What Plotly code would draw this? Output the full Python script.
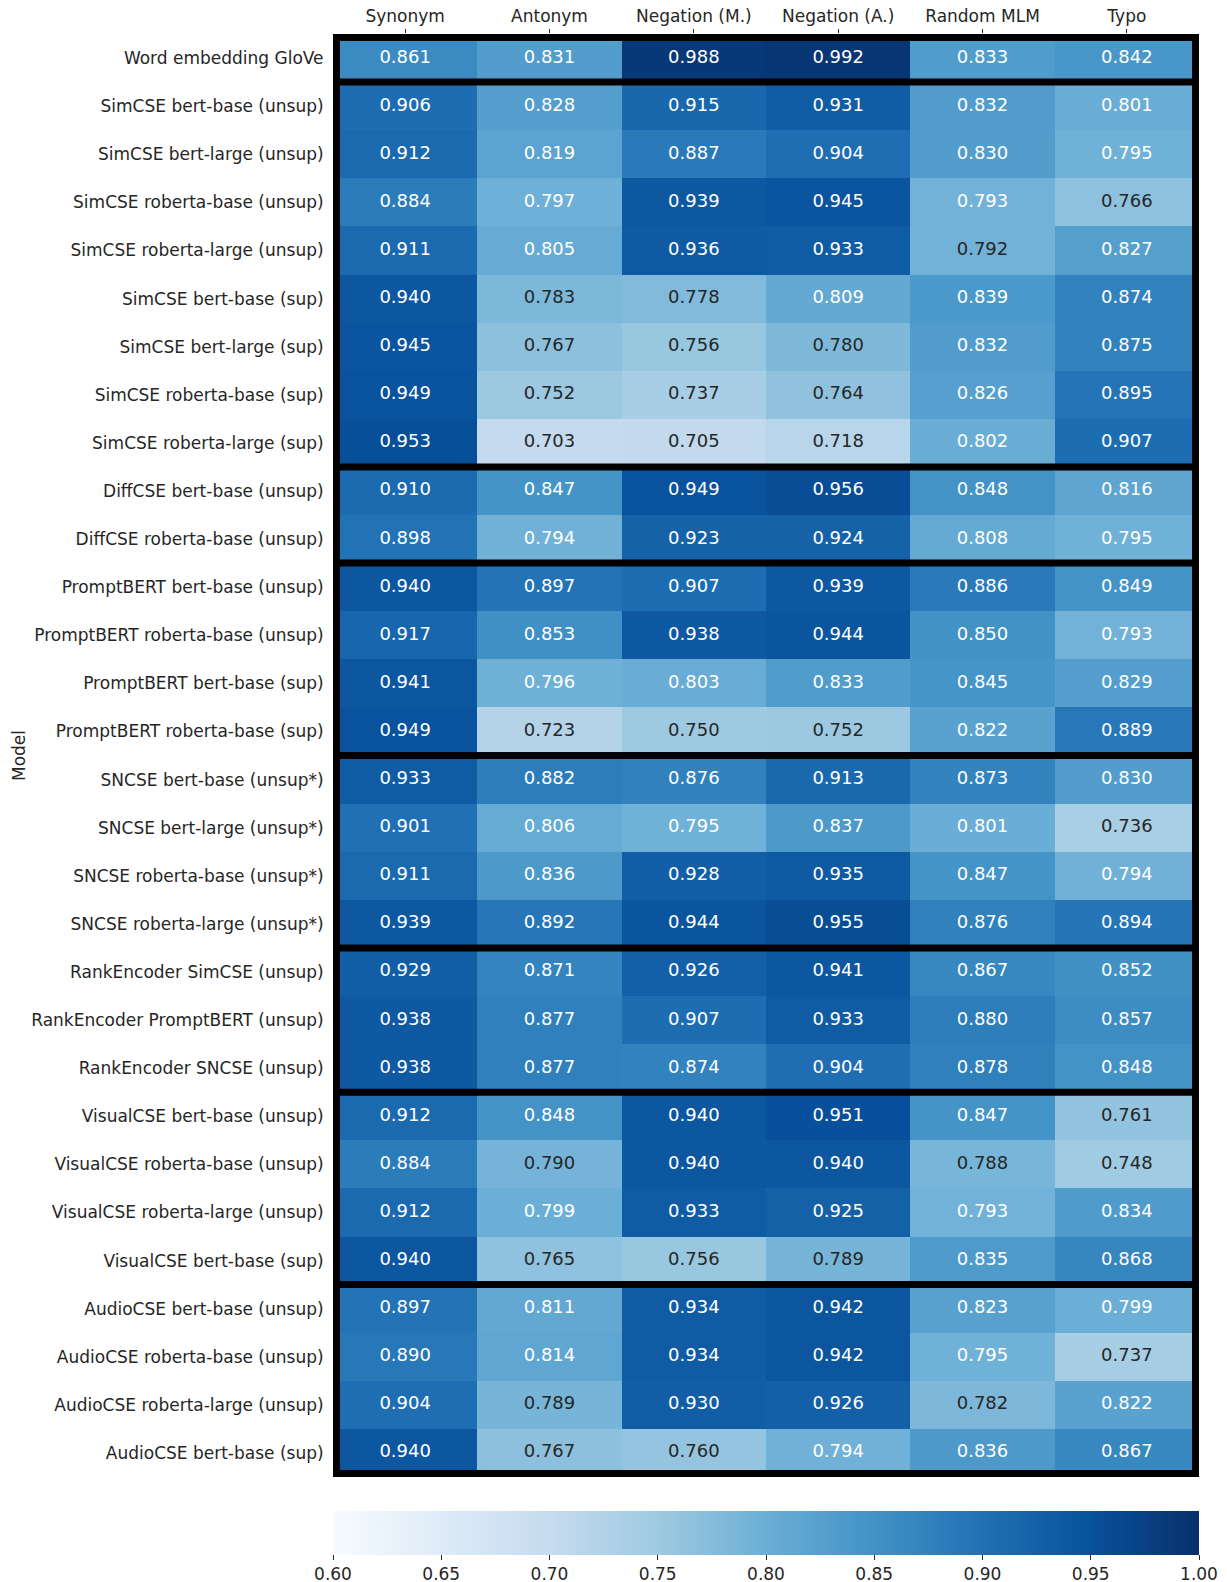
import plotly.graph_objects as go

columns = ["Synonym", "Antonym", "Negation (M.)", "Negation (A.)", "Random MLM", "Typo"]

models = [
    "Word embedding GloVe",
    "SimCSE bert-base (unsup)",
    "SimCSE bert-large (unsup)",
    "SimCSE roberta-base (unsup)",
    "SimCSE roberta-large (unsup)",
    "SimCSE bert-base (sup)",
    "SimCSE bert-large (sup)",
    "SimCSE roberta-base (sup)",
    "SimCSE roberta-large (sup)",
    "DiffCSE bert-base (unsup)",
    "DiffCSE roberta-base (unsup)",
    "PromptBERT bert-base (unsup)",
    "PromptBERT roberta-base (unsup)",
    "PromptBERT bert-base (sup)",
    "PromptBERT roberta-base (sup)",
    "SNCSE bert-base (unsup*)",
    "SNCSE bert-large (unsup*)",
    "SNCSE roberta-base (unsup*)",
    "SNCSE roberta-large (unsup*)",
    "RankEncoder SimCSE (unsup)",
    "RankEncoder PromptBERT (unsup)",
    "RankEncoder SNCSE (unsup)",
    "VisualCSE bert-base (unsup)",
    "VisualCSE roberta-base (unsup)",
    "VisualCSE roberta-large (unsup)",
    "VisualCSE bert-base (sup)",
    "AudioCSE bert-base (unsup)",
    "AudioCSE roberta-base (unsup)",
    "AudioCSE roberta-large (unsup)",
    "AudioCSE bert-base (sup)",
]

values = [
    [0.861, 0.831, 0.988, 0.992, 0.833, 0.842],
    [0.906, 0.828, 0.915, 0.931, 0.832, 0.801],
    [0.912, 0.819, 0.887, 0.904, 0.830, 0.795],
    [0.884, 0.797, 0.939, 0.945, 0.793, 0.766],
    [0.911, 0.805, 0.936, 0.933, 0.792, 0.827],
    [0.940, 0.783, 0.778, 0.809, 0.839, 0.874],
    [0.945, 0.767, 0.756, 0.780, 0.832, 0.875],
    [0.949, 0.752, 0.737, 0.764, 0.826, 0.895],
    [0.953, 0.703, 0.705, 0.718, 0.802, 0.907],
    [0.910, 0.847, 0.949, 0.956, 0.848, 0.816],
    [0.898, 0.794, 0.923, 0.924, 0.808, 0.795],
    [0.940, 0.897, 0.907, 0.939, 0.886, 0.849],
    [0.917, 0.853, 0.938, 0.944, 0.850, 0.793],
    [0.941, 0.796, 0.803, 0.833, 0.845, 0.829],
    [0.949, 0.723, 0.750, 0.752, 0.822, 0.889],
    [0.933, 0.882, 0.876, 0.913, 0.873, 0.830],
    [0.901, 0.806, 0.795, 0.837, 0.801, 0.736],
    [0.911, 0.836, 0.928, 0.935, 0.847, 0.794],
    [0.939, 0.892, 0.944, 0.955, 0.876, 0.894],
    [0.929, 0.871, 0.926, 0.941, 0.867, 0.852],
    [0.938, 0.877, 0.907, 0.933, 0.880, 0.857],
    [0.938, 0.877, 0.874, 0.904, 0.878, 0.848],
    [0.912, 0.848, 0.940, 0.951, 0.847, 0.761],
    [0.884, 0.790, 0.940, 0.940, 0.788, 0.748],
    [0.912, 0.799, 0.933, 0.925, 0.793, 0.834],
    [0.940, 0.765, 0.756, 0.789, 0.835, 0.868],
    [0.897, 0.811, 0.934, 0.942, 0.823, 0.799],
    [0.890, 0.814, 0.934, 0.942, 0.795, 0.737],
    [0.904, 0.789, 0.930, 0.926, 0.782, 0.822],
    [0.940, 0.767, 0.760, 0.794, 0.836, 0.867],
]

group_sizes = [1, 8, 2, 4, 4, 3, 4, 4]

cbar_ticks = [0.60, 0.65, 0.70, 0.75, 0.80, 0.85, 0.90, 0.95, 1.00]
zmin, zmax = 0.60, 1.00

# matplotlib "Blues" (ColorBrewer 9 stops)
blues = ["#f7fbff", "#deebf7", "#c6dbef", "#9ecae1", "#6baed6",
         "#4292c6", "#2171b5", "#08519c", "#08306b"]
colorscale = [[i / (len(blues) - 1), c] for i, c in enumerate(blues)]

# page body has an 8px margin, so the figure is offset by it
OFF = 8
W, H = 1227 - OFF, 1582 - OFF
L, R, T, B = 332.7 - OFF, 1199.3 - OFF, 34.3 - OFF, 1476.7 - OFF
CB_TOP = 1510.7 - OFF
plot_w, plot_h = R - L, B - T
ncol, nrow = len(columns), len(models)

TXT = "#262626"
FONT = "DejaVu Sans"
FS = 17

fig = go.Figure()
fig.add_trace(go.Heatmap(
    z=values,
    x=list(range(ncol)),
    y=list(range(nrow)),
    zmin=zmin, zmax=zmax,
    colorscale=colorscale,
    hoverongaps=False,
    colorbar=dict(
        orientation="h",
        x=0.5, xanchor="center",
        y=-(CB_TOP - B) / plot_h, yanchor="top",
        len=1.0, lenmode="fraction",
        thickness=44.3, thicknessmode="pixels",
        xpad=0, ypad=0,
        outlinewidth=0,
        tickvals=cbar_ticks,
        ticktext=[f"{t:.2f}" for t in cbar_ticks],
        ticks="outside", ticklen=5, tickwidth=1, tickcolor=TXT,
        tickfont=dict(family=FONT, size=FS, color=TXT),
    ),
))

# cell annotations
xs, ys, texts, colors = [], [], [], []
for r, row in enumerate(values):
    for c, v in enumerate(row):
        xs.append(c)
        ys.append(r)
        texts.append(f"{v:.3f}")
        colors.append("#ffffff" if v >= 0.7925 else TXT)
fig.add_trace(go.Scatter(
    x=xs, y=ys, text=texts, mode="text",
    textfont=dict(family=FONT, size=18, color=colors),
    hoverinfo="skip", showlegend=False,
))

# group borders
lw = 7
dx = (lw / 2) / (plot_w / ncol)
dy = (lw / 2) / (plot_h / nrow)
shapes = [dict(type="rect", xref="x", yref="y",
               x0=-0.5 + dx, x1=ncol - 0.5 - dx,
               y0=-0.5 + dy, y1=nrow - 0.5 - dy,
               line=dict(color="black", width=lw), fillcolor="rgba(0,0,0,0)",
               layer="above")]
pos = 0
for g in group_sizes[:-1]:
    pos += g
    shapes.append(dict(type="line", xref="x", yref="y",
                       x0=-0.5, x1=ncol - 0.5, y0=pos - 0.5, y1=pos - 0.5,
                       line=dict(color="black", width=lw), layer="above"))

fig.update_layout(
    width=W, height=H,
    margin=dict(l=L, r=W - R, t=T, b=H - B, pad=0, autoexpand=False),
    paper_bgcolor="white", plot_bgcolor="white",
    shapes=shapes,
    showlegend=False,
    font=dict(family=FONT, color=TXT),
    xaxis=dict(
        side="top", automargin=False,
        range=[-0.5, ncol - 0.5],
        tickvals=list(range(ncol)), ticktext=columns,
        ticks="outside", ticklen=4.5, tickwidth=1, tickcolor=TXT,
        tickfont=dict(family=FONT, size=FS, color=TXT),
        showgrid=False, zeroline=False, showline=False,
    ),
    yaxis=dict(
        automargin=False,
        range=[nrow - 0.5, -0.5],
        tickvals=list(range(nrow)), ticktext=models,
        ticks="outside", ticklen=5, tickcolor="rgba(0,0,0,0)",
        tickfont=dict(family=FONT, size=FS, color=TXT),
        showgrid=False, zeroline=False, showline=False,
    ),
    annotations=[dict(
        text="Model", textangle=-90, showarrow=False,
        xref="paper", yref="paper",
        x=(18 - OFF - L) / plot_w, y=0.5, xanchor="center", yanchor="middle",
        font=dict(family=FONT, size=FS, color=TXT),
    )],
)

fig.write_html("out.html")
